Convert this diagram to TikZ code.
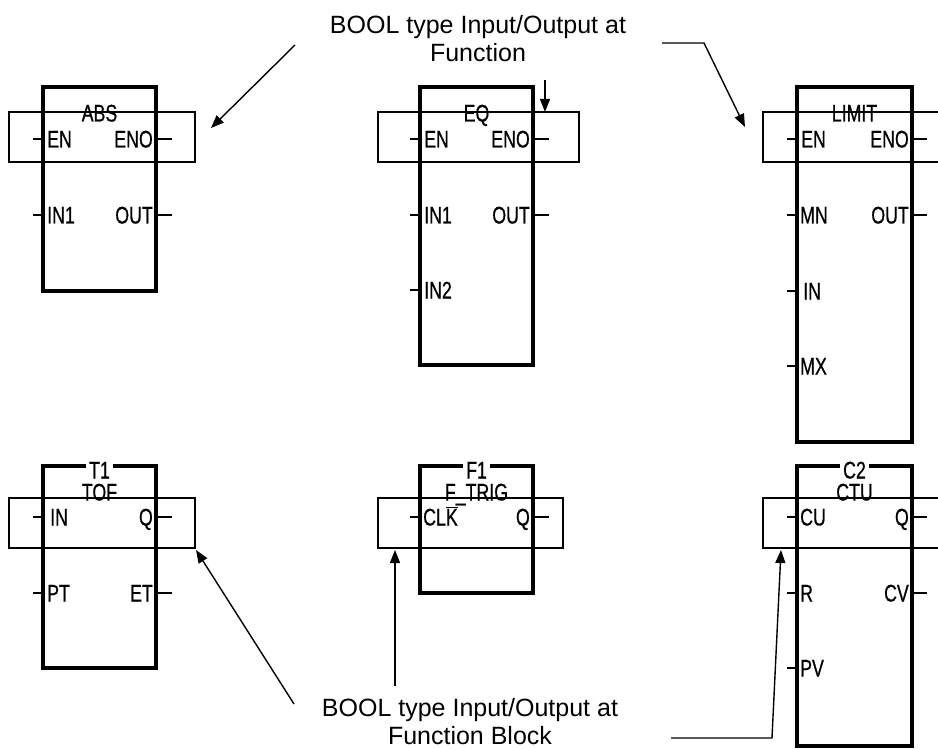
\documentclass[tikz,border=0pt]{standalone}
\usepackage{fontspec}
\setmainfont{Liberation Sans}
\newfontfamily\pinfont[FakeStretch=0.74,FakeBold=0.6]{Liberation Sans}
\usetikzlibrary{arrows.meta}
\begin{document}
\begin{tikzpicture}[x=1pt,y=-1pt,
  blk/.style={draw, line width=3.3pt, inner sep=0pt},
  boolbox/.style={draw, line width=1.2pt, inner sep=0pt, minimum height=50pt},
  pinl/.style={font=\pinfont\fontsize{24}{24}\selectfont, inner sep=0pt, text height=17pt, text depth=0pt, anchor=west},
  pinr/.style={pinl, anchor=east},
  tname/.style={pinl, anchor=center},
  inst/.style={tname, fill=white, inner xsep=3pt},
  stub/.style={line width=2.6pt},
  conn/.style={line width=1.4pt, -{Triangle[length=13pt,width=10pt]}},
  title/.style={align=center, font=\fontsize{25}{28}\selectfont, inner sep=0pt}]
\useasboundingbox (0,0) rectangle (938,749);

% ---------- Function: ABS ----------
\node (abs) [blk, minimum width=113pt, minimum height=204pt] at (99.5,189) {};
\node (absbool) [boolbox, minimum width=186pt] at (102,137) {};
\node (absname) [tname] at (99.5,113) {ABS};
\node (absen) [pinl] at (47,139) {EN};
\node (absin) [pinl] at (47,215) {IN1};
\node (abseno) [pinr] at (153,139) {ENO};
\node (absout) [pinr] at (153,215) {OUT};
\draw[stub] (abs.west |- absen) -- ++(-8,0);
\draw[stub] (abs.west |- absin) -- ++(-8,0);
\draw[stub] (abs.east |- abseno) -- ++(14,0);
\draw[stub] (abs.east |- absout) -- ++(14,0);

% ---------- Function: EQ ----------
\node (eq) [blk, minimum width=113pt, minimum height=278pt] at (476.5,226) {};
\node (eqbool) [boolbox, minimum width=201pt] at (478.5,137) {};
\node (eqname) [tname] at (476.5,113) {EQ};
\node (eqen) [pinl] at (424,139) {EN};
\node (eqin1) [pinl] at (424,215) {IN1};
\node (eqin2) [pinl] at (424,290) {IN2};
\node (eqeno) [pinr] at (530,139) {ENO};
\node (eqout) [pinr] at (530,215) {OUT};
\draw[stub] (eq.west |- eqen) -- ++(-8,0);
\draw[stub] (eq.west |- eqin1) -- ++(-8,0);
\draw[stub] (eq.west |- eqin2) -- ++(-8,0);
\draw[stub] (eq.east |- eqeno) -- ++(14,0);
\draw[stub] (eq.east |- eqout) -- ++(14,0);

% ---------- Function: LIMIT ----------
\node (lim) [blk, minimum width=115pt, minimum height=355pt] at (854.5,264.5) {};
\node (limbool) [boolbox, minimum width=187pt] at (856.5,137) {};
\node (limname) [tname] at (854.5,113) {LIMIT};
\node (limen) [pinl] at (801,139) {EN};
\node (limmn) [pinl] at (800,215) {MN};
\node (limin) [pinl] at (803,291) {IN};
\node (limmx) [pinl] at (800,366) {MX};
\node (limeno) [pinr] at (909,139) {ENO};
\node (limout) [pinr] at (909,215) {OUT};
\draw[stub] (lim.west |- limen) -- ++(-8,0);
\draw[stub] (lim.west |- limmn) -- ++(-8,0);
\draw[stub] (lim.west |- limin) -- ++(-8,0);
\draw[stub] (lim.west |- limmx) -- ++(-8,0);
\draw[stub] (lim.east |- limeno) -- ++(13,0);
\draw[stub] (lim.east |- limout) -- ++(13,0);

% ---------- Function block: TOF ----------
\node (tof) [blk, minimum width=113pt, minimum height=202pt] at (99.5,567) {};
\node (tofinst) [inst] at (99.5,470) {T1};
\node (tofbool) [boolbox, minimum width=186pt] at (102,523) {};
\node (tofname) [tname] at (99.5,492) {TOF};
\node (tofin) [pinl] at (50,517) {IN};
\node (tofpt) [pinl] at (47,593) {PT};
\node (tofq) [pinr] at (153,517) {Q};
\node (tofet) [pinr] at (153,593) {ET};
\draw[stub] (tof.west |- tofin) -- ++(-8,0);
\draw[stub] (tof.west |- tofpt) -- ++(-8,0);
\draw[stub] (tof.east |- tofq) -- ++(14,0);
\draw[stub] (tof.east |- tofet) -- ++(14,0);

% ---------- Function block: F_TRIG ----------
\node (ftr) [blk, minimum width=113pt, minimum height=127pt] at (476.5,529.5) {};
\node (ftrinst) [inst] at (476.5,470) {F1};
\node (ftrbool) [boolbox, minimum width=185pt] at (470.5,523) {};
\node (ftrname) [tname] at (476.5,492) {F\_TRIG};
\node (ftrclk) [pinl] at (423,517) {CL$\overline{\hbox{K}}$};
\node (ftrq) [pinr] at (530,517) {Q};
\draw[stub] (ftr.west |- ftrclk) -- ++(-8,0);
\draw[stub] (ftr.east |- ftrq) -- ++(14,0);

% ---------- Function block: CTU ----------
\node (ctu) [blk, minimum width=115pt, minimum height=280pt] at (854.5,606) {};
\node (ctuinst) [inst] at (854.5,470) {C2};
\node (ctubool) [boolbox, minimum width=187pt] at (856.5,523) {};
\node (ctuname) [tname] at (854.5,492) {CTU};
\node (ctucu) [pinl] at (800,517) {CU};
\node (ctur) [pinl] at (800,593) {R};
\node (ctupv) [pinl] at (800,668) {PV};
\node (ctuq) [pinr] at (909,517) {Q};
\node (ctucv) [pinr] at (909,593) {CV};
\draw[stub] (ctu.west |- ctucu) -- ++(-8,0);
\draw[stub] (ctu.west |- ctur) -- ++(-8,0);
\draw[stub] (ctu.west |- ctupv) -- ++(-8,0);
\draw[stub] (ctu.east |- ctuq) -- ++(13,0);
\draw[stub] (ctu.east |- ctucv) -- ++(13,0);

% ---------- Captions ----------
\node (fnlabel) [title] at (478,39) {BOOL type Input/Output at\\Function};
\node (fblabel) [title] at (470,722) {BOOL type Input/Output at\\Function Block};

% ---------- Pointers ----------
\coordinate (p1s) at (295,45);   \coordinate (p1e) at (211,128);
\coordinate (p2s) at (545,80);   \coordinate (p2e) at (545,112);
\coordinate (p3s) at (662,43);   \coordinate (p3k) at (704,43);  \coordinate (p3e) at (745,127);
\coordinate (p4s) at (294,704);  \coordinate (p4e) at (196,550);
\coordinate (p5s) at (395,686);  \coordinate (p5e) at (395,550);
\coordinate (p6s) at (671,738);  \coordinate (p6k) at (772,738); \coordinate (p6e) at (781,550);
\draw[conn] (p1s) -- (p1e);
\draw[conn] (p2s) -- (p2e);
\draw[conn] (p3s) -- (p3k) -- (p3e);
\draw[conn] (p4s) -- (p4e);
\draw[conn] (p5s) -- (p5e);
\draw[conn] (p6s) -- (p6k) -- (p6e);
\end{tikzpicture}
\end{document}
